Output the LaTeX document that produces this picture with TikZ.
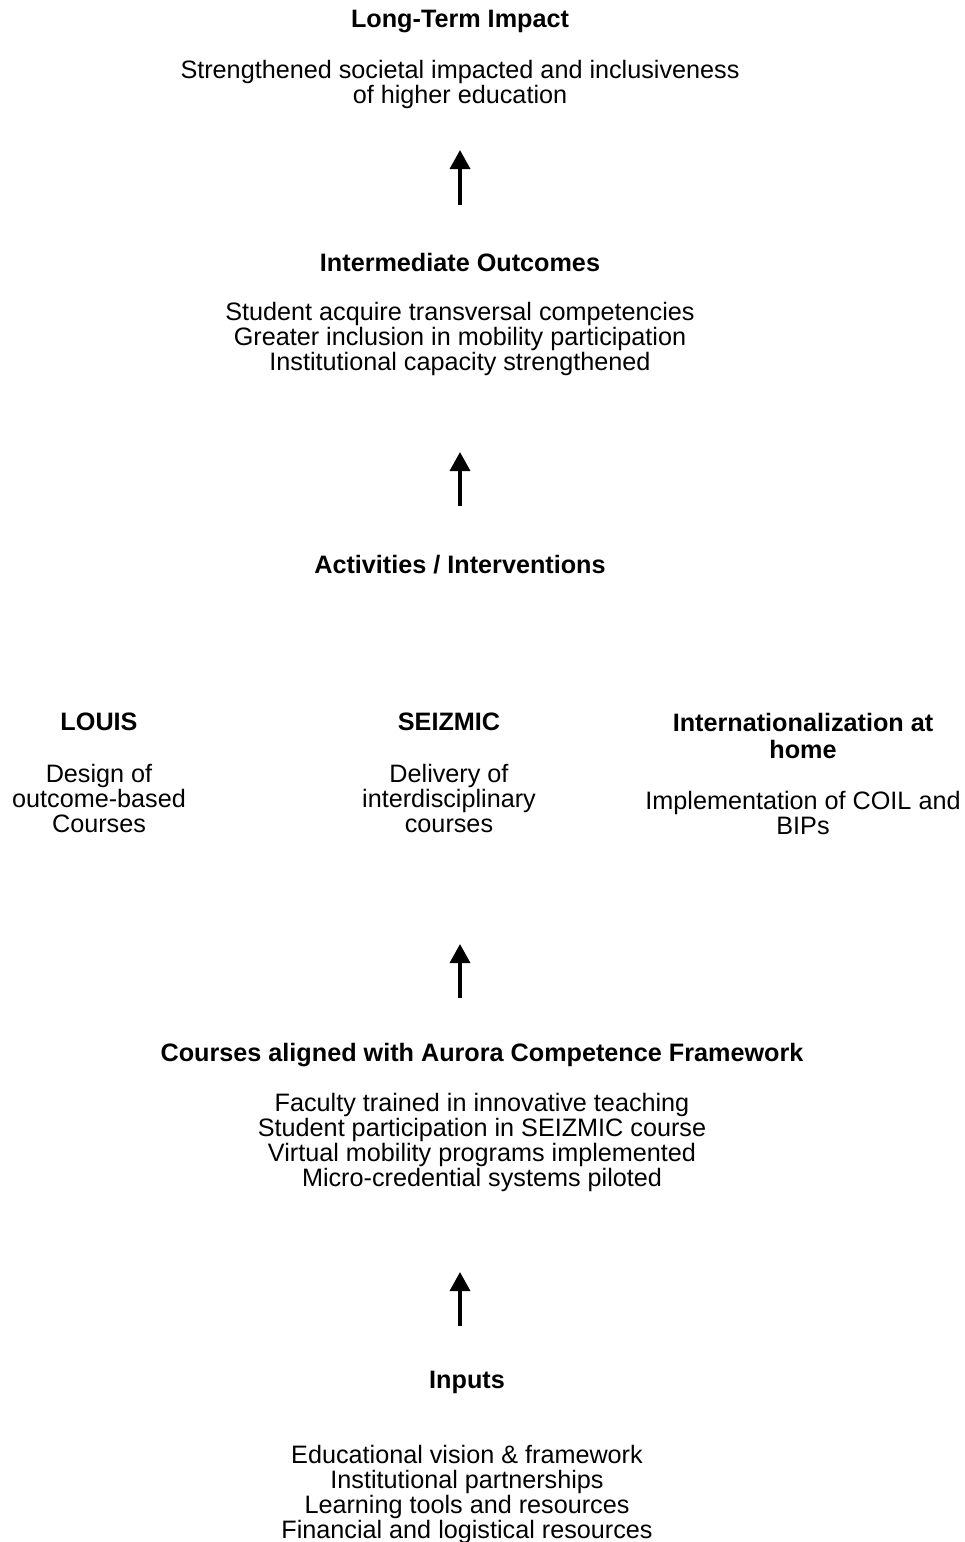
\documentclass[tikz,border=0pt]{standalone}
\usepackage{fontspec}
\setmainfont{Liberation Sans}
\usepackage{tikz}
\usetikzlibrary{positioning,arrows.meta}

\tikzset{
  txt/.style={inner sep=0, align=center, font=\fontsize{25.2}{25}\selectfont},
  hd/.style={inner sep=0, align=center, font=\fontsize{25.2}{27}\selectfont\bfseries},
  up/.style={-{Triangle[width=20pt,length=19pt]}, line width=3.5pt},
}

\begin{document}
\begin{tikzpicture}[x=1pt, y=-1pt]

\useasboundingbox (0,0) rectangle (964,1542);

% nodes %
\node[hd] (impact) at (460,22) {Long-Term Impact};
\node[txt] (impactx) at (460,84.5) {Strengthened societal impacted and inclusiveness\\of higher education};

\node[hd] (outc) at (460,262) {Intermediate Outcomes};
\node[txt] (outcx) at (460,339) {Student acquire transversal competencies\\Greater inclusion in mobility participation\\Institutional capacity strengthened};

\node[hd] (act) at (460,565) {Activities / Interventions};

\node[hd] (louis) at (99,722) {LOUIS};
\node[txt] (louisx) at (99,798) {Design of\\outcome-based\\Courses};
\node[hd] (seiz) at (449,722) {SEIZMIC};
\node[txt] (seizx) at (449,798) {Delivery of\\interdisciplinary\\courses};
\node[hd] (intl) at (803,735.5) {Internationalization at\\home};
\node[txt] (intlx) at (803,812.5) {Implementation of COIL and\\BIPs};

\node[hd] (crs) at (482,1055) {Courses aligned with Aurora Competence Framework};
\node[txt] (crsx) at (482,1142.5) {Faculty trained in innovative teaching\\Student participation in SEIZMIC course\\Virtual mobility programs implemented\\Micro-credential systems piloted};

\node[hd] (inp) at (467,1382) {Inputs};
\node[txt] (inpx) at (467,1494.5) {Educational vision \& framework\\Institutional partnerships\\Learning tools and resources\\Financial and logistical resources};

% arrow ends %
\coordinate (a1s) at (460,205);
\coordinate (a1e) at (460,150);
\coordinate (a2s) at (460,506);
\coordinate (a2e) at (460,452);
\coordinate (a3s) at (460,998);
\coordinate (a3e) at (460,944);
\coordinate (a4s) at (460,1326);
\coordinate (a4e) at (460,1272);

% edges %
\draw[up] (a1s) -- (a1e);
\draw[up] (a2s) -- (a2e);
\draw[up] (a3s) -- (a3e);
\draw[up] (a4s) -- (a4e);

\end{tikzpicture}
\end{document}
